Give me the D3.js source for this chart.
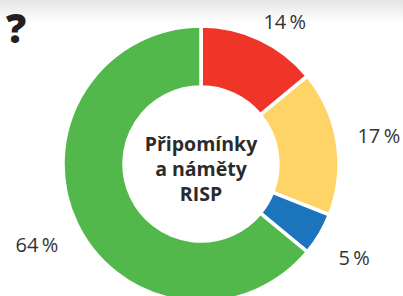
<!DOCTYPE html>
<html>
<head>
<meta charset="utf-8">
<script src="https://cdn.jsdelivr.net/npm/d3@7"></script>
<style>
  html, body { margin: 0; padding: 0; background: #fff; }
  svg { display: block; }
</style>
</head>
<body>
<script>
const categories = ["Kategorie A", "Kategorie B", "Kategorie C", "Kategorie D"];
const values = [14, 17, 5, 64];
const colors = ["#ef3428", "#ffd467", "#1c75bc", "#52b84c"];
const centerLines = ["Připomínky", "a náměty", "RISP"];

const width = 403, height = 296;
const cx = 201, cy = 164;
const outerR = 138, innerR = 77;

const svg = d3.select('body').append('svg')
  .attr('width', width)
  .attr('height', height);

// faint grey band at the top
const grad = svg.append('defs').append('linearGradient')
  .attr('id', 'topfade')
  .attr('x1', 0).attr('y1', 0).attr('x2', 0).attr('y2', 1);
grad.append('stop').attr('offset', '0%').attr('stop-color', '#e4e4e4');
grad.append('stop').attr('offset', '100%').attr('stop-color', '#ffffff');
svg.append('rect')
  .attr('width', width).attr('height', 22)
  .attr('fill', 'url(#topfade)');

// question mark
svg.append('text')
  .attr('x', 6)
  .attr('y', 43)
  .attr('font-family', 'Open Sans, sans-serif')
  .attr('font-weight', 800)
  .attr('font-size', '40px')
  .attr('fill', '#231f20')
  .text('?');

const pie = d3.pie().sort(null).value(d => d);
const arcs = pie(values);

const arc = d3.arc().innerRadius(innerR).outerRadius(outerR);
const labelArc = d3.arc().innerRadius(178).outerRadius(178);

const g = svg.append('g').attr('transform', `translate(${cx},${cy})`);

g.selectAll('path')
  .data(arcs)
  .enter().append('path')
  .attr('d', arc)
  .attr('fill', (d, i) => colors[i])
  .attr('stroke', '#fff')
  .attr('stroke-width', 3.5)
  .attr('stroke-linejoin', 'miter');

// top label sits lower than the others
const nudge = [[8, 19], [2, 0], [0, 3], [-3, 5]];

g.selectAll('text.pct')
  .data(arcs)
  .enter().append('text')
  .attr('class', 'pct')
  .attr('x', (d, i) => labelArc.centroid(d)[0] + nudge[i][0])
  .attr('y', (d, i) => labelArc.centroid(d)[1] + nudge[i][1])
  .attr('dy', '0.36em')
  .attr('text-anchor', 'middle')
  .attr('font-family', 'Open Sans, sans-serif')
  .attr('font-size', '20px')
  .attr('fill', '#333')
  .text(d => d.data + '\u2009%');

g.append('text')
  .attr('text-anchor', 'middle')
  .attr('font-family', 'Open Sans, sans-serif')
  .attr('font-weight', 700)
  .attr('font-size', '19.5px')
  .attr('fill', '#2b2b2b')
  .selectAll('tspan')
  .data(centerLines)
  .enter().append('tspan')
  .attr('x', 0)
  .attr('y', (d, i) => -13 + i * 25)
  .text(d => d);
</script>
</body>
</html>
